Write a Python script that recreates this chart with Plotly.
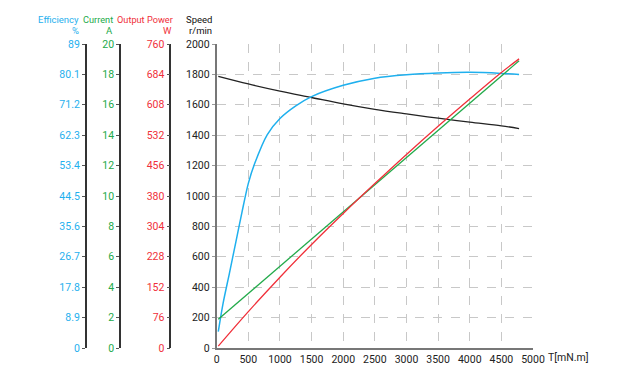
import plotly.graph_objects as go

# ---- data ----
torque_speed = [25, 500, 1000, 1500, 2000, 2500, 3000, 3500, 4000, 4500, 4780]
speed = [1787, 1737, 1690, 1648, 1606, 1570, 1540, 1512, 1486, 1462, 1443]

torque_eff = [25, 100, 200, 300, 400, 500, 600, 800, 1000, 1250, 1500, 2000, 2500, 3000, 3500, 4000, 4500, 4780]
efficiency = [4.8, 13.0, 21.8, 30.8, 39.8, 48.2, 54.0, 62.5, 67.2, 70.9, 73.6, 76.9, 79.0, 80.0, 80.5, 80.7, 80.4, 80.1]

torque_cur = [25, 4780]
current = [1.89, 18.9]

torque_pow = [25, 500, 1000, 1500, 2000, 2500, 3000, 3500, 4000, 4500, 4780]
power = [4.7, 90.9, 177.0, 258.9, 336.4, 411.0, 483.8, 554.2, 622.4, 688.8, 722.8]

eff_ticks = [0, 8.9, 17.8, 26.7, 35.6, 44.5, 53.4, 62.3, 71.2, 80.1, 89]
eff_labels = ["0", "8.9", "17.8", "26.7", "35.6", "44.5", "53.4", "62.3", "71.2", "80.1", "89"]
cur_ticks = [0, 2, 4, 6, 8, 10, 12, 14, 16, 18, 20]
pow_ticks = [0, 76, 152, 228, 304, 380, 456, 532, 608, 684, 760]
speed_ticks = [0, 200, 400, 600, 800, 1000, 1200, 1400, 1600, 1800, 2000]
x_ticks = [0, 500, 1000, 1500, 2000, 2500, 3000, 3500, 4000, 4500, 5000]

BLUE = "#1fb0ee"
GREEN = "#22aa4a"
RED = "#f0303a"
BLACK = "#222222"
TFONT = "Roboto"

W, H = 640, 376
OFF = 8  # page offset
ML, MR, MT, MB = 12, 640 - (533 - OFF), 44 - OFF, 376 - (348 - OFF)
pw = W - ML - MR
ph = H - MT - MB


def pos(px):
    return (px - OFF - ML) / pw


def ypos(py):
    return 1 + (MT - (py - OFF)) / ph


fig = go.Figure()
fig.add_trace(go.Scatter(x=torque_speed, y=speed, mode="lines", line=dict(color=BLACK, width=1.3, shape="spline"), yaxis="y"))
fig.add_trace(go.Scatter(x=torque_eff, y=efficiency, mode="lines", line=dict(color=BLUE, width=1.5, shape="spline", smoothing=0.8), yaxis="y2"))
fig.add_trace(go.Scatter(x=torque_cur, y=current, mode="lines", line=dict(color=GREEN, width=1.3), yaxis="y3"))
fig.add_trace(go.Scatter(x=torque_pow, y=power, mode="lines", line=dict(color=RED, width=1.3, shape="spline"), yaxis="y4"))

common = dict(showgrid=False, zeroline=False, showline=True, linecolor="#333333", linewidth=1.5,
              ticks="outside", ticklen=3, tickcolor="#555555", tickwidth=1,
              anchor="free", overlaying="y", side="left")

fig.update_layout(
    width=W, height=H,
    margin=dict(l=ML, r=MR, t=MT, b=MB, autoexpand=False),
    paper_bgcolor="white", plot_bgcolor="white",
    showlegend=False,
    font=dict(family=TFONT, size=10.5, color="#222222"),
    xaxis=dict(domain=[pos(216.7), 1], range=[0, 5000], tickvals=x_ticks,
               showgrid=True, gridcolor="#c8c8c8", griddash="dash", gridwidth=1,
               showline=True, linecolor="#777777", linewidth=2, zeroline=False,
               ticks="", tickfont=dict(family=TFONT, size=10.5, color="#222222")),
    yaxis=dict(range=[0, 2000], tickvals=speed_ticks,
               showgrid=True, gridcolor="#c8c8c8", griddash="dash", gridwidth=1,
               showline=True, linecolor="#777777", linewidth=2, zeroline=False,
               ticks="outside", ticklen=3, tickcolor="#999999",
               tickfont=dict(family=TFONT, size=10.5, color="#222222")),
    yaxis2=dict(range=[0, 89], tickvals=eff_ticks, ticktext=eff_labels, position=pos(85.7),
                tickfont=dict(family=TFONT, size=10.5, color=BLUE), **common),
    yaxis3=dict(range=[0, 20], tickvals=cur_ticks, position=pos(120),
                tickfont=dict(family=TFONT, size=10.5, color=GREEN), **common),
    yaxis4=dict(range=[0, 760], tickvals=pow_ticks, position=pos(170.3),
                tickfont=dict(family=TFONT, size=10.5, color=RED), **common),
)


def label(text, xpx, ypx, color, size=9.5):
    fig.add_annotation(text=text, x=pos(xpx), y=ypos(ypx), xref="paper", yref="paper",
                       xanchor="right", yanchor="middle", showarrow=False, align="right",
                       font=dict(family=TFONT, size=size, color=color))


label("Efficiency", 81, 20, BLUE)
label("%", 81, 31, BLUE)
label("Current", 115, 20, GREEN, 9.2)
label("A", 115, 31, GREEN)
label("Output Power", 175, 20, RED, 9.2)
label("W", 174, 31, RED)
label("Speed", 214, 20, "#111111")
label("r/min", 214, 31, "#111111")

fig.add_annotation(text="T[mN.m]", x=pos(546), y=ypos(357), xref="paper", yref="paper",
                   xanchor="left", yanchor="middle", showarrow=False,
                   font=dict(family=TFONT, size=10.5, color="#222222"))

fig.write_html("out.html")
